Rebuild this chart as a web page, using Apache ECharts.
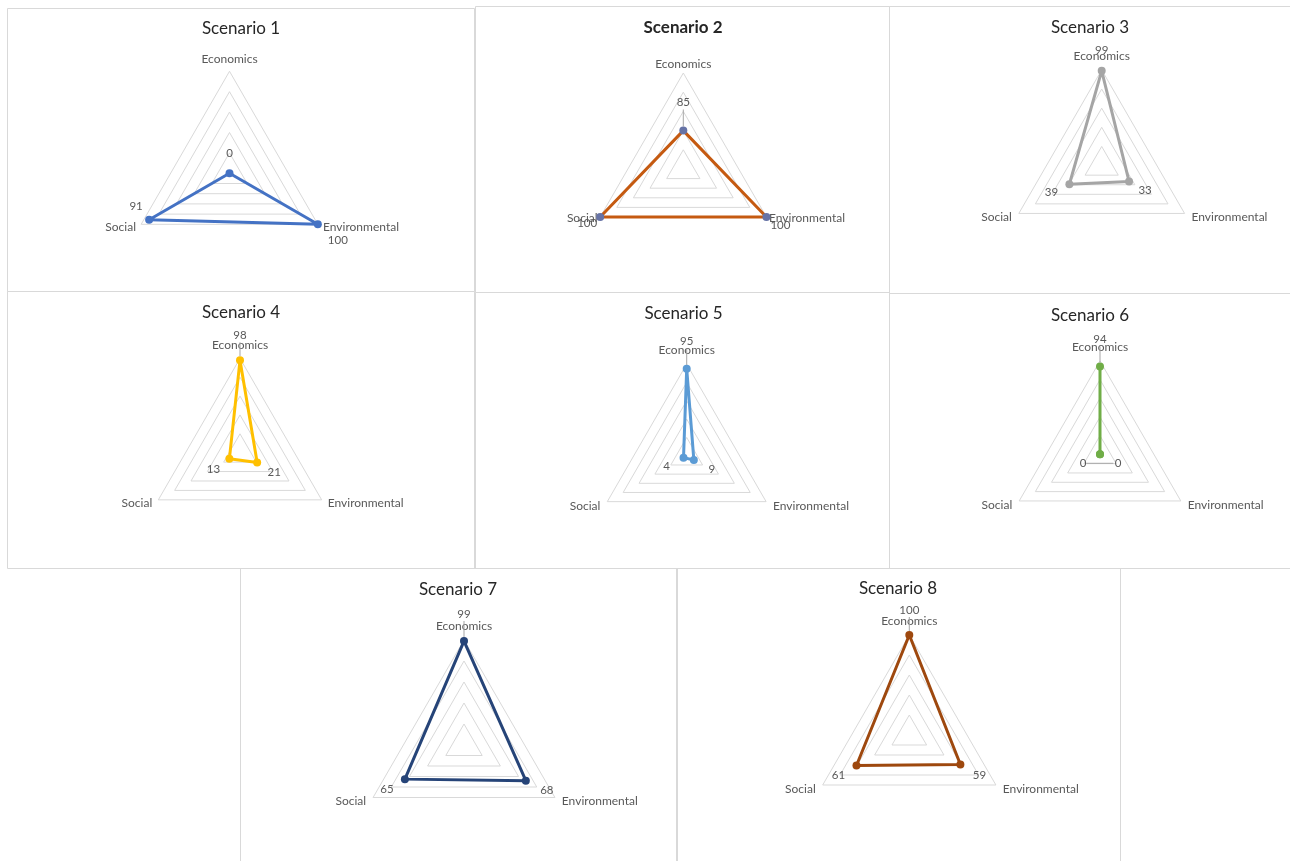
<!DOCTYPE html>
<html>
<head>
<meta charset="utf-8">
<script src="https://cdn.jsdelivr.net/npm/echarts@6/dist/echarts.min.js"></script>
<style>
  html, body { margin: 0; padding: 0; background: #ffffff; }
  #chart { width: 1290px; height: 861px; }
</style>
</head>
<body>
<div id="chart"></div>
<script>
// Indicator names (order: top, bottom-left, bottom-right)
const categories = ['Economics', 'Social', 'Environmental'];

const scenarioNames = ['Scenario 1', 'Scenario 2', 'Scenario 3', 'Scenario 4',
                       'Scenario 5', 'Scenario 6', 'Scenario 7', 'Scenario 8'];

// Scores per scenario: [Economics, Social, Environmental]
const scenario1 = [0, 91, 100];
const scenario2 = [85, 100, 100];
const scenario3 = [99, 39, 33];
const scenario4 = [98, 13, 21];
const scenario5 = [95, 4, 9];
const scenario6 = [94, 0, 0];
const scenario7 = [99, 65, 68];
const scenario8 = [100, 61, 59];

// Radial scale of each panel
const scaleMin = [0, 75, 0, 0, 0, 0, 0, 0];
const scaleMax = [100, 100, 100, 100, 100, 100, 100, 100];

const scenarios = [scenario1, scenario2, scenario3, scenario4,
                   scenario5, scenario6, scenario7, scenario8];

// ---- presentation ----
const lineColors = ['#4472C4', '#C55A11', '#A5A5A5', '#FFC000',
                    '#5B9BD5', '#70AD47', '#264478', '#9E480E'];
const markerColors = ['#4472C4', '#6673A6', '#A5A5A5', '#FFC000',
                      '#5B9BD5', '#70AD47', '#264478', '#9E480E'];
const LEADER = '#A6A6A6';
const FONT = 'Lato, "Open Sans", sans-serif';
const TXT_H = 14;

// panel frames [x, y, w, h]
const frames = [
  [7, 8, 467, 283], [475, 6, 414, 286], [889, 6, 401, 287],
  [7, 291, 467, 277], [475, 292, 414, 276], [889, 293, 401, 275],
  [240, 568, 436, 300], [677, 568, 443, 300]
];
// radar centre, radius and name gap per panel
const radarLayout = [
  { c: [229.5, 173.3], r: 102, gap: 6 },
  { c: [683.3, 169], r: 96, gap: 3 },
  { c: [1101.7, 165.6], r: 95.7, gap: 8 },
  { c: [240, 452.7], r: 94.3, gap: 7 },
  { c: [686.7, 455.8], r: 91.7, gap: 8 },
  { c: [1100, 454.3], r: 93.3, gap: 8 },
  { c: [464, 745], r: 105, gap: 8 },
  { c: [909.3, 735], r: 100, gap: 8 }
];
// title centre per panel
const titlePos = [
  [241, 29], [683, 28], [1090, 28], [241, 313],
  [683.5, 314], [1090, 315.5], [458, 590], [898, 589]
];
// value label offsets from each vertex [dx, dy]
const labelShift = [
  [[0, -20], [-13, -13], [20, 16]],
  [[0, -28], [-13, 6], [14, 8]],
  [[0, -21], [-18, 8], [16, 9]],
  [[0, -25], [-16, 10], [17, 10]],
  [[0, -27], [-17, 9], [18, 9]],
  [[0, -27], [-17, 9], [18, 9]],
  [[0, -27], [-18, 10], [21, 10]],
  [[0, -25], [-18, 10], [19, 11]]
];
// leader line below the top value label
const topLeader = [false, true, false, true, true, true, true, true];
// horizontal leader joining the two lower labels (width in px), 0 = none
const lowLeader = [0, 0, 0, 0, 0, 27, 0, 0];

function buildLabel(i) {
  const shifts = labelShift[i];
  const rich = {
    v: { fontSize: 11.5, fontFamily: FONT, color: '#595959', height: TXT_H },
    gap: { height: 4 }
  };
  shifts.forEach(function (s, d) {
    const dx = s[0], dy = s[1];
    rich['p' + d] = {
      fontSize: 11.5, fontFamily: FONT, color: '#595959', height: TXT_H,
      padding: [Math.max(0, 2 * dy), Math.max(0, -2 * dx), Math.max(0, -2 * dy), Math.max(0, 2 * dx)]
    };
  });
  // vertical leader geometry for the top label
  const lead = -shifts[0][1] - TXT_H / 2;
  rich.vl = { width: 1, height: Math.max(1, lead - 4), backgroundColor: LEADER };
  rich.vs = { height: TXT_H + lead };
  // horizontal leader geometry for the lower-left label
  rich.hs = { height: Math.max(0, 2 * shifts[1][1]) };
  rich.hl = { width: lowLeader[i], height: 1, backgroundColor: LEADER };
  rich.hg = { width: 7, height: 1 };

  return {
    show: true,
    position: 'inside',
    formatter: function (p) {
      const d = p.dimensionIndex;
      if (d === 0 && topLeader[i]) {
        return '{v|' + p.value + '}\n{vl|}\n{gap|}\n{vs|}';
      }
      if (d === 1 && lowLeader[i] > 0) {
        return '{hs|}\n{v|' + p.value + '}{hl|}{hg|}';
      }
      return '{p' + d + '|' + p.value + '}';
    },
    rich: rich
  };
}

const radars = scenarios.map(function (vals, i) {
  return {
    center: radarLayout[i].c,
    radius: radarLayout[i].r,
    startAngle: 90,
    shape: 'polygon',
    splitNumber: 5,
    nameGap: radarLayout[i].gap,
    indicator: categories.map(function (name) {
      return { name: name, min: scaleMin[i], max: scaleMax[i] };
    }),
    axisName: { color: '#595959', fontSize: 12, fontFamily: FONT },
    axisLine: { show: false },
    axisTick: { show: false },
    axisLabel: { show: false },
    splitArea: { show: false },
    splitLine: { lineStyle: { color: '#D9D9D9', width: 1 } }
  };
});

const series = scenarios.map(function (vals, i) {
  return {
    type: 'radar',
    radarIndex: i,
    symbol: 'circle',
    symbolSize: 8,
    lineStyle: { color: lineColors[i], width: 3 },
    itemStyle: { color: markerColors[i] },
    label: buildLabel(i),
    silent: true,
    data: [{ value: vals, name: scenarioNames[i] }]
  };
});

const graphics = [];
frames.forEach(function (f) {
  graphics.push({
    type: 'rect',
    silent: true,
    shape: { x: f[0] + 0.5, y: f[1] + 0.5, width: f[2], height: f[3] },
    style: { fill: 'none', stroke: '#D9D9D9', lineWidth: 1 }
  });
});
scenarioNames.forEach(function (name, i) {
  graphics.push({
    type: 'text',
    silent: true,
    x: titlePos[i][0],
    y: titlePos[i][1],
    style: {
      text: name,
      fill: '#262626',
      font: (i === 1 ? 'bold ' : '') + '17px ' + FONT,
      textAlign: 'center',
      textVerticalAlign: 'middle'
    }
  });
});

const chart = echarts.init(document.getElementById('chart'), null, { renderer: 'canvas' });
chart.setOption({
  backgroundColor: '#ffffff',
  animation: false,
  radar: radars,
  series: series,
  graphic: graphics
});
</script>
</body>
</html>
